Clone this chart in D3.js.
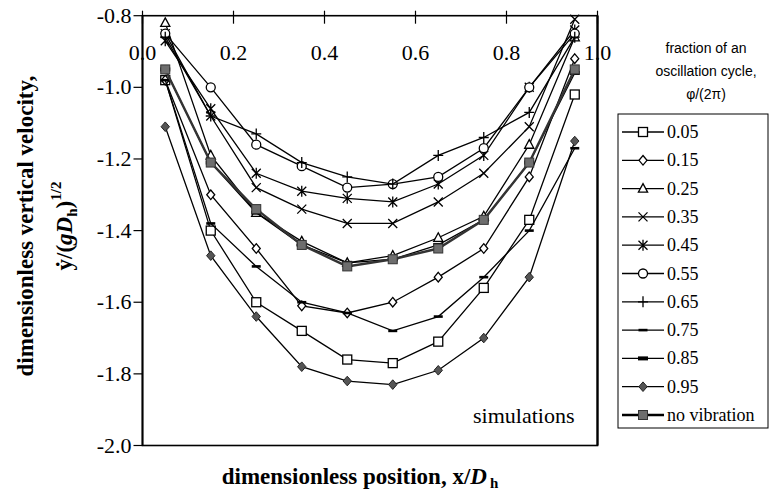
<!DOCTYPE html>
<html><head><meta charset="utf-8">
<script src="https://cdn.jsdelivr.net/npm/d3@7"></script>
<style>
body{margin:0;background:#fff}
svg text{font-family:"Liberation Serif","Times New Roman",Times,"DejaVu Serif",serif}
svg text.sans{font-family:"Liberation Sans",Arial,"DejaVu Sans",sans-serif}
</style>
</head><body><svg id="c" width="770" height="502"></svg>
<script>
// ---- data ----
const xPositions = [0.05, 0.15, 0.25, 0.35, 0.45, 0.55, 0.65, 0.75, 0.85, 0.95];
const seriesNames = ["0.05", "0.15", "0.25", "0.35", "0.45", "0.55", "0.65", "0.75", "0.85", "0.95", "no vibration"];
const s005 = [-0.98, -1.40, -1.60, -1.68, -1.76, -1.77, -1.71, -1.56, -1.37, -1.02];
const s015 = [-0.98, -1.30, -1.45, -1.61, -1.63, -1.60, -1.53, -1.45, -1.25, -0.92];
const s025 = [-0.82, -1.19, -1.35, -1.43, -1.49, -1.47, -1.42, -1.36, -1.16, -0.86];
const s035 = [-0.85, -1.08, -1.28, -1.34, -1.38, -1.38, -1.32, -1.24, -1.11, -0.81];
const s045 = [-0.87, -1.06, -1.24, -1.29, -1.31, -1.32, -1.27, -1.19, -1.00, -0.84];
const s055 = [-0.85, -1.00, -1.16, -1.22, -1.28, -1.27, -1.25, -1.17, -1.00, -0.85];
const s065 = [-0.86, -1.08, -1.13, -1.21, -1.25, -1.27, -1.19, -1.14, -1.07, -0.86];
const s075 = [-0.98, -1.38, -1.50, -1.60, -1.63, -1.68, -1.64, -1.53, -1.40, -1.17];
const s085 = [-0.95, -1.21, -1.35, -1.44, -1.49, -1.48, -1.44, -1.37, -1.21, -0.96];
const s095 = [-1.11, -1.47, -1.64, -1.78, -1.82, -1.83, -1.79, -1.70, -1.53, -1.15];
const sNoVib = [-0.95, -1.21, -1.34, -1.44, -1.50, -1.48, -1.45, -1.37, -1.21, -0.95];
const seriesValues = [s005, s015, s025, s035, s045, s055, s065, s075, s085, s095, sNoVib];
const markerTypes = ["square", "diamond", "triangle", "x", "asterisk", "circle", "plus", "dash", "thickdash", "filledDiamond", "filledSquare"];
const xTickValues = [0, 0.2, 0.4, 0.6, 0.8, 1.0];
const xTickLabels = ["0.0", "0.2", "0.4", "0.6", "0.8", "1.0"];
const yTickValues = [-0.8, -1.0, -1.2, -1.4, -1.6, -1.8, -2.0];
const yTickLabels = ["-0.8", "-1.0", "-1.2", "-1.4", "-1.6", "-1.8", "-2.0"];
const legendTitle = ["fraction of an", "oscillation cycle,", "\u03c6/(2\u03c0)"];

// ---- layout ----
const svg = d3.select("#c");
const L = 142.5, R = 597.5, T = 15.7, B = 445.5;
const x = d3.scaleLinear().domain([0, 1]).range([L, R]);
const y = d3.scaleLinear().domain([-2.0, -0.8]).range([B, T]);

function drawMarker(g, type) {
  const sw = 1.3;
  switch (type) {
    case "square":
      g.append("rect").attr("x", -4.5).attr("y", -4.5).attr("width", 9).attr("height", 9)
        .attr("fill", "#fff").attr("stroke", "#000").attr("stroke-width", sw); break;
    case "diamond":
      g.append("path").attr("d", "M0,-4.8L4,0L0,4.8L-4,0Z")
        .attr("fill", "#fff").attr("stroke", "#000").attr("stroke-width", sw); break;
    case "triangle":
      g.append("path").attr("d", "M0,-5L4.6,3.6L-4.6,3.6Z")
        .attr("fill", "#fff").attr("stroke", "#000").attr("stroke-width", sw); break;
    case "x":
      g.append("path").attr("d", "M-4.5,-4.5L4.5,4.5M-4.5,4.5L4.5,-4.5")
        .attr("fill", "none").attr("stroke", "#000").attr("stroke-width", sw); break;
    case "asterisk":
      g.append("path").attr("d", "M-4.5,-4.5L4.5,4.5M-4.5,4.5L4.5,-4.5M0,-5.5L0,5.5")
        .attr("fill", "none").attr("stroke", "#000").attr("stroke-width", sw); break;
    case "circle":
      g.append("circle").attr("r", 4.5)
        .attr("fill", "#fff").attr("stroke", "#000").attr("stroke-width", sw); break;
    case "plus":
      g.append("path").attr("d", "M-5,0L5,0M0,-5.5L0,5.5")
        .attr("fill", "none").attr("stroke", "#000").attr("stroke-width", sw); break;
    case "dash":
      g.append("rect").attr("x", -4.5).attr("y", -1.3).attr("width", 9).attr("height", 2.6).attr("fill", "#000"); break;
    case "thickdash":
      g.append("rect").attr("x", -5).attr("y", -2).attr("width", 10).attr("height", 4).attr("fill", "#000"); break;
    case "filledDiamond":
      g.append("path").attr("d", "M0,-4.8L4.2,0L0,4.8L-4.2,0Z")
        .attr("fill", "#555").attr("stroke", "#222").attr("stroke-width", 1); break;
    case "filledSquare":
      g.append("rect").attr("x", -4.5).attr("y", -4.5).attr("width", 9).attr("height", 9)
        .attr("fill", "#6e6e6e").attr("stroke", "#333").attr("stroke-width", 1); break;
  }
}

// frame
svg.append("rect").attr("x", L).attr("y", T).attr("width", R - L).attr("height", B - T)
  .attr("fill", "none").attr("stroke", "#000").attr("stroke-width", 1.6);

// y ticks
svg.selectAll(".yt").data(yTickValues).enter().append("line")
  .attr("x1", L - 9).attr("x2", L).attr("y1", d => y(d)).attr("y2", d => y(d))
  .attr("stroke", "#000").attr("stroke-width", 1.2);
svg.selectAll(".yl").data(yTickValues).enter().append("text")
  .attr("x", L - 11).attr("y", d => y(d) + 7).attr("text-anchor", "end")
  .attr("font-size", 22).text((d, i) => yTickLabels[i]);

// x ticks (top axis at y = -0.8)
svg.selectAll(".xt").data(xTickValues).enter().append("line")
  .attr("x1", d => x(d)).attr("x2", d => x(d)).attr("y1", T - 5).attr("y2", T + 8)
  .attr("stroke", "#000").attr("stroke-width", 1.2);
svg.selectAll(".xl").data(xTickValues).enter().append("text")
  .attr("x", d => x(d)).attr("y", T + 44).attr("text-anchor", "middle")
  .attr("font-size", 22).text((d, i) => xTickLabels[i]);

// series
const line = d3.line().x((d, i) => x(xPositions[i])).y(d => y(d));
seriesValues.forEach((vals, si) => {
  const g = svg.append("g");
  const isNV = si === seriesValues.length - 1;
  g.append("path").attr("d", line(vals)).attr("fill", "none")
    .attr("stroke", isNV ? "#333" : "#000").attr("stroke-width", isNV ? 2.4 : 1.3);
  vals.forEach((v, i) => {
    const m = g.append("g").attr("transform", `translate(${x(xPositions[i])},${y(v)})`);
    drawMarker(m, markerTypes[si]);
  });
});
// frame edges on top (the axis line hides the "." in 0.0 and 1.0)
svg.append("line").attr("x1", L).attr("x2", L).attr("y1", T).attr("y2", B).attr("stroke", "#000").attr("stroke-width", 1.8);
svg.append("line").attr("x1", R).attr("x2", R).attr("y1", T).attr("y2", B).attr("stroke", "#000").attr("stroke-width", 2.2);

// simulations label
svg.append("text").attr("x", R - 23).attr("y", 423).attr("text-anchor", "end")
  .attr("font-size", 22).text("simulations");

// axis titles
svg.append("text").attr("x", 360).attr("y", 484).attr("text-anchor", "middle")
  .attr("font-size", 23).attr("font-weight", "bold")
  .call(t => {
    t.append("tspan").text("dimensionless position, x/");
    t.append("tspan").attr("font-style", "italic").text("D");
    t.append("tspan").attr("font-size", 15).attr("dx", 3).attr("dy", 4).text("h");
  });

const yt = svg.append("g").attr("transform", "translate(0,226) rotate(-90)");
yt.append("text").attr("x", 0).attr("y", 33).attr("text-anchor", "middle")
  .attr("font-size", 23).attr("font-weight", "bold")
  .text("dimensionless vertical velocity,");
yt.append("text").attr("x", 0).attr("y", 72).attr("text-anchor", "middle")
  .attr("font-size", 23).attr("font-weight", "bold")
  .call(t => {
    t.append("tspan").text("\u1e8f/(");
    t.append("tspan").attr("font-style", "italic").text("gD");
    t.append("tspan").attr("font-size", 15).attr("dy", 5).text("h");
    t.append("tspan").attr("dy", -5).text(")");
    t.append("tspan").attr("font-size", 15).attr("dy", -11).text("1/2");
  });

// legend title
svg.selectAll(".lt").data(legendTitle).enter().append("text").attr("class", "sans")
  .attr("x", 706).attr("y", (d, i) => 53 + i * 23).attr("text-anchor", "middle")
  .attr("font-size", 14).text(d => d);

// legend box
const lgX = 618, lgY = 114, lgW = 150, lgH = 314;
svg.append("rect").attr("x", lgX).attr("y", lgY).attr("width", lgW).attr("height", lgH)
  .attr("fill", "none").attr("stroke", "#000").attr("stroke-width", 1);
seriesNames.forEach((name, i) => {
  const cy = 132 + i * 28.3;
  const isNV = i === seriesNames.length - 1;
  svg.append("line").attr("x1", 622).attr("x2", 664).attr("y1", cy).attr("y2", cy)
    .attr("stroke", "#000").attr("stroke-width", isNV ? 2.6 : 1.3);
  const m = svg.append("g").attr("transform", `translate(643,${cy})`);
  drawMarker(m, markerTypes[i]);
  svg.append("text").attr("x", 667).attr("y", cy + 6).attr("font-size", 18).text(name);
});
</script></body></html>
